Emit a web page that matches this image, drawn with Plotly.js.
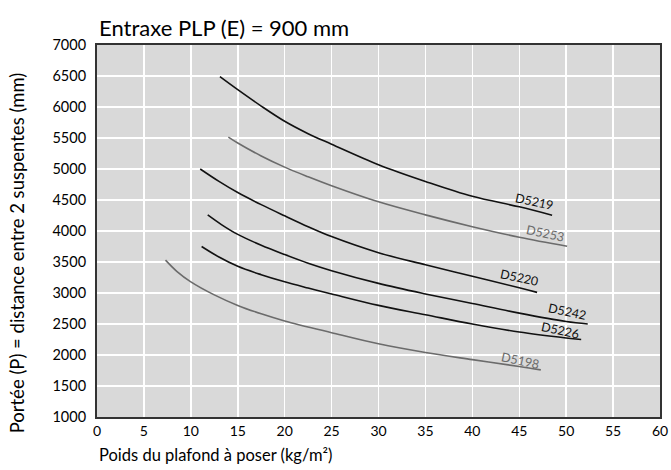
<!DOCTYPE html>
<html>
<head>
<meta charset="utf-8">
<script src="https://cdn.plot.ly/plotly-3.0.1.min.js"></script>
<style>html,body{margin:0;padding:0;background:#fff;}#chart{width:671px;height:470px;}</style>
</head>
<body>
<div id="chart"></div>
<script>
// Series data
const seriesNames = ["D5219", "D5253", "D5220", "D5242", "D5226", "D5198"];
const x_D5219 = [13.1, 15, 17.5, 20, 22.5, 25, 30, 35, 40, 45, 48.5];
const y_D5219 = [6490, 6280, 6015, 5770, 5570, 5400, 5070, 4800, 4560, 4390, 4255];
const x_D5253 = [14.0, 15, 17.5, 20, 22.5, 25, 30, 35, 40, 45, 50.1];
const y_D5253 = [5515, 5420, 5210, 5030, 4875, 4730, 4470, 4260, 4070, 3900, 3755];
const x_D5220 = [11.0, 13, 15, 17.5, 20, 22.5, 25, 30, 35, 40, 45, 46.9];
const y_D5220 = [5000, 4800, 4620, 4425, 4245, 4070, 3910, 3650, 3455, 3270, 3085, 3010];
const x_D5242 = [11.8, 13.3, 15, 17.5, 20, 22.5, 25, 30, 35, 40, 45, 50, 52.3];
const y_D5242 = [4260, 4100, 3945, 3770, 3620, 3480, 3360, 3155, 2985, 2830, 2675, 2540, 2500];
const x_D5226 = [11.15, 13, 15, 17.5, 20, 22.5, 25, 30, 35, 40, 45, 50, 51.6];
const y_D5226 = [3750, 3580, 3430, 3295, 3180, 3080, 2985, 2800, 2650, 2500, 2370, 2275, 2250];
const x_D5198 = [7.3, 8.5, 10, 12.5, 15, 17.5, 20, 25, 30, 35, 40, 45, 47.3];
const y_D5198 = [3530, 3350, 3180, 2970, 2800, 2665, 2550, 2360, 2180, 2040, 1925, 1815, 1760];

// Label anchor positions (data coords)
const labelX = [46.6, 47.8, 45.0, 50.1, 49.4, 45.1];
const labelY = [4473, 3963, 3247, 2699, 2403, 1908];

const xTickVals = [0, 5, 10, 15, 20, 25, 30, 35, 40, 45, 50, 55, 60];
const yTickVals = [1000, 1500, 2000, 2500, 3000, 3500, 4000, 4500, 5000, 5500, 6000, 6500, 7000];

const titleText = "Entraxe PLP (E) = 900 mm";
const xTitleText = "Poids du plafond à poser (kg/m²)";
const yTitleText = "Portée (P) = distance entre 2 suspentes (mm)";

const FONT = "Lato, 'Open Sans', sans-serif";
const dark = "#111111", gray = "#6b6b6b";
const colors = [dark, gray, dark, dark, dark, gray];
const xs = [x_D5219, x_D5253, x_D5220, x_D5242, x_D5226, x_D5198];
const ys = [y_D5219, y_D5253, y_D5220, y_D5242, y_D5226, y_D5198];

const traces = seriesNames.map((n, i) => ({
  type: "scatter", mode: "lines", name: n,
  x: xs[i], y: ys[i],
  line: {color: colors[i], width: 1.6, shape: "spline", smoothing: 1.0},
  hoverinfo: "skip"
}));

const annotations = seriesNames.map((n, i) => ({
  x: labelX[i], y: labelY[i], xref: "x", yref: "y",
  text: n, showarrow: false, textangle: 12,
  font: {family: FONT, size: 12.5, color: colors[i]}
}));
annotations.push({
  text: titleText, xref: "paper", yref: "paper", x: 0, y: 1, xanchor: "left", yanchor: "bottom",
  yshift: 2, showarrow: false, font: {family: FONT, size: 22, color: "#000"}
});
annotations.push({
  text: xTitleText, xref: "paper", yref: "paper", x: 0, y: 0, xanchor: "left", yanchor: "top",
  yshift: -26, showarrow: false, font: {family: FONT, size: 16.5, color: "#000"}
});
annotations.push({
  text: yTitleText, xref: "paper", yref: "paper", x: 0, y: 0.44, xanchor: "center", yanchor: "middle",
  xshift: -80, textangle: -90, showarrow: false, font: {family: FONT, size: 18.5, color: "#000"}
});

const layout = {
  width: 671, height: 470,
  margin: {l: 97, r: 11, t: 45, b: 53},
  paper_bgcolor: "#ffffff", plot_bgcolor: "#d9d9d9",
  showlegend: false,
  font: {family: FONT, size: 12, color: "#000"},
  xaxis: {
    range: [0, 60], tickvals: xTickVals, ticks: "", showgrid: true,
    gridcolor: "#ffffff", gridwidth: 1.5, zeroline: false,
    showline: true, mirror: true, linecolor: "#333333", linewidth: 2,
    tickfont: {family: FONT, size: 14, color: "#000"}
  },
  yaxis: {
    range: [1000, 7000], tickvals: yTickVals, ticks: "", showgrid: true,
    gridcolor: "#ffffff", gridwidth: 1.5, zeroline: false,
    showline: true, mirror: true, linecolor: "#333333", linewidth: 2,
    ticklabelstandoff: 6,
    tickfont: {family: FONT, size: 14.5, color: "#000"}
  },
  annotations: annotations
};

Plotly.newPlot("chart", traces, layout, {displayModeBar: false, staticPlot: true});
</script>
</body>
</html>
